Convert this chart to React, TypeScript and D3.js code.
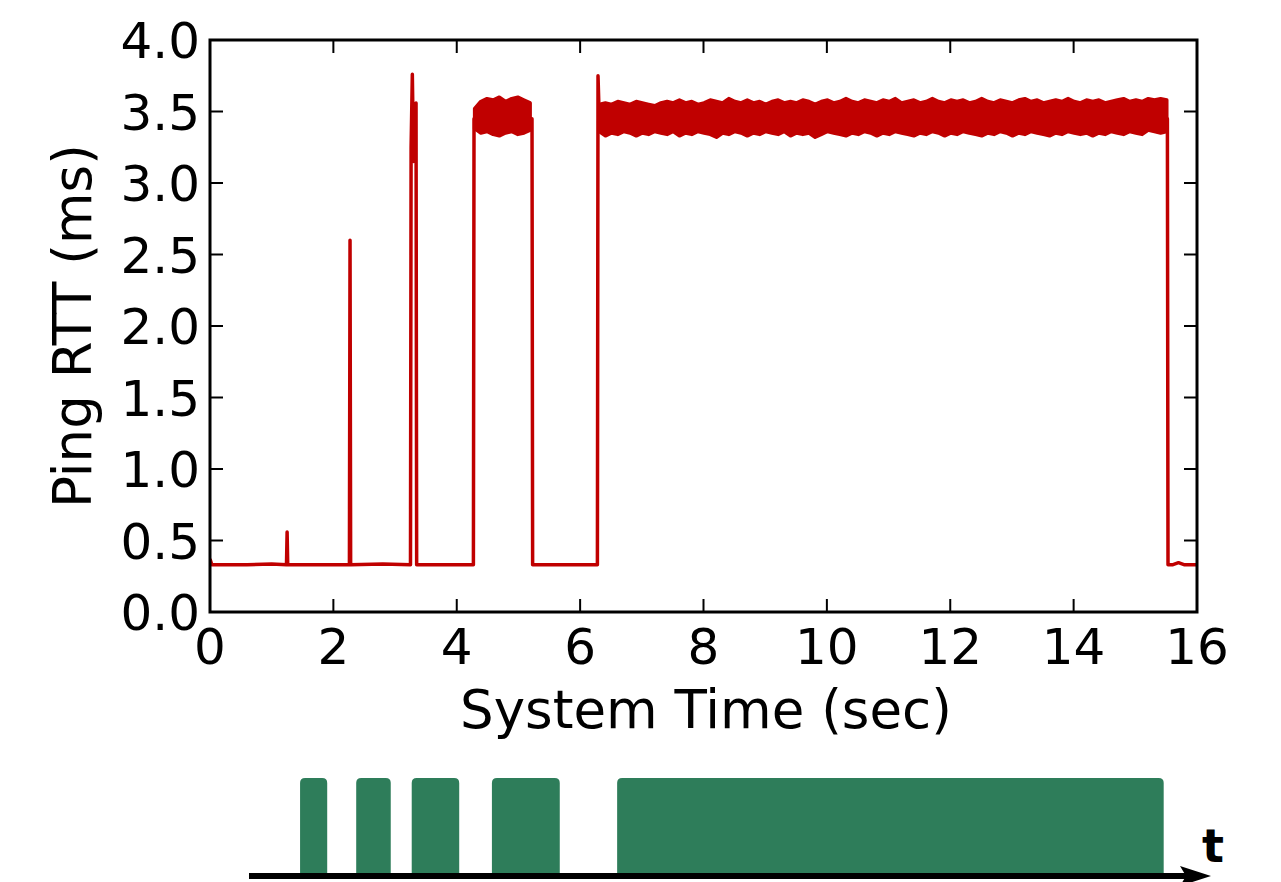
import React, { useRef, useEffect } from "react"
import * as d3 from "d3"

// ping RTT trace (sec, ms) - baseline, spikes and band entry/exit points
const rttPoints: [number, number][] = [
  [0.0, 0.37], [0.03, 0.33], [0.6, 0.33], [1.0, 0.335], [1.24, 0.33], [1.25, 0.56], [1.26, 0.33],
  [1.8, 0.33], [2.26, 0.33], [2.27, 2.6], [2.28, 0.33], [2.8, 0.335], [3.25, 0.33],
  [3.26, 3.25], [3.28, 3.76], [3.3, 3.15], [3.34, 3.56], [3.35, 0.33], [3.8, 0.33],
  [4.27, 0.33], [4.28, 3.45], [5.22, 3.45], [5.23, 0.33], [5.7, 0.33], [6.28, 0.33],
  [6.29, 3.75], [6.31, 3.45], [15.52, 3.45], [15.53, 0.33], [15.6, 0.33], [15.7, 0.345],
  [15.8, 0.33], [16.0, 0.33],
]

// noisy band envelopes, one sample every 0.1 s
const band1Start = 4.29
const band1Upper = [3.52, 3.57, 3.59, 3.58, 3.6, 3.57, 3.59, 3.6, 3.58, 3.56]
const band1Lower = [3.38, 3.35, 3.36, 3.34, 3.33, 3.35, 3.36, 3.34, 3.35, 3.37]

const band2Start = 6.31
const band2Upper = [
  3.55, 3.56, 3.55, 3.57, 3.56, 3.55, 3.57, 3.56, 3.55, 3.54,
  3.56, 3.57, 3.56, 3.58, 3.56, 3.57, 3.55, 3.56, 3.58, 3.57,
  3.56, 3.59, 3.57, 3.56, 3.58, 3.56, 3.57, 3.55, 3.57, 3.58,
  3.56, 3.57, 3.56, 3.58, 3.57, 3.55, 3.57, 3.58, 3.56, 3.57,
  3.59, 3.57, 3.56, 3.58, 3.57, 3.56, 3.58, 3.57, 3.59, 3.56,
  3.57, 3.58, 3.56, 3.57, 3.59, 3.57, 3.56, 3.58, 3.57, 3.58,
  3.56, 3.57, 3.59, 3.57, 3.56, 3.58, 3.57, 3.56, 3.58, 3.59,
  3.57, 3.58, 3.56, 3.57, 3.58, 3.57, 3.59, 3.57, 3.56, 3.58,
  3.57, 3.58, 3.56, 3.57, 3.58, 3.59, 3.57, 3.58, 3.57, 3.59,
  3.58, 3.59, 3.58,
]
const band2Lower = [
  3.36, 3.33, 3.35, 3.34, 3.36, 3.35, 3.33, 3.35, 3.34, 3.36,
  3.35, 3.34, 3.36, 3.33, 3.35, 3.34, 3.36, 3.35, 3.34, 3.32,
  3.35, 3.34, 3.36, 3.35, 3.33, 3.35, 3.34, 3.36, 3.35, 3.34,
  3.36, 3.33, 3.35, 3.34, 3.35, 3.32, 3.34, 3.36, 3.35, 3.34,
  3.33, 3.35, 3.34, 3.36, 3.35, 3.33, 3.35, 3.34, 3.36, 3.35,
  3.34, 3.33, 3.35, 3.34, 3.36, 3.35, 3.33, 3.35, 3.34, 3.36,
  3.35, 3.34, 3.33, 3.35, 3.34, 3.36, 3.35, 3.33, 3.35, 3.34,
  3.36, 3.35, 3.34, 3.33, 3.35, 3.34, 3.36, 3.35, 3.34, 3.35,
  3.33, 3.35, 3.34, 3.36, 3.35, 3.34, 3.36, 3.35, 3.34, 3.37,
  3.36, 3.35, 3.36,
]

// schematic activity bars under the chart (start, end in sec)
const activity: [number, number][] = [
  [1.46, 1.9], [2.37, 2.93], [3.27, 4.04], [4.57, 5.67], [6.6, 15.46],
]

const xTicks = [0, 2, 4, 6, 8, 10, 12, 14, 16]
const yTicks = [0, 0.5, 1, 1.5, 2, 2.5, 3, 3.5, 4]

const RED = "#c00000"
const GREEN = "#2e7d5a"
const FONT = "DejaVu Sans, sans-serif"

export default function App() {
  const svgRef = useRef<SVGSVGElement>(null)

  useEffect(() => {
    document.body.style.margin = "0"
    const svg = d3.select(svgRef.current)
    svg.selectAll("*").remove()

    const left = 210, right = 1197, top = 40, bottom = 612
    const x = d3.scaleLinear().domain([0, 16]).range([left, right])
    const y = d3.scaleLinear().domain([0, 4]).range([bottom, top])

    svg.append("defs").append("clipPath").attr("id", "plotclip")
      .append("rect").attr("x", left).attr("y", top - 10)
      .attr("width", right - left).attr("height", bottom - top + 10)

    const plot = svg.append("g").attr("clip-path", "url(#plotclip)")

    const line = d3.line<[number, number]>().x(d => x(d[0])).y(d => y(d[1]))
    plot.append("path").datum(rttPoints)
      .attr("d", line).attr("fill", "none")
      .attr("stroke", RED).attr("stroke-width", 3.5).attr("stroke-linejoin", "round")

    function drawBand(start: number, upper: number[], lower: number[]) {
      const rows = upper.map((u, i) => ({ t: start + i * 0.1, u, l: lower[i] }))
      const area = d3.area<any>().x(d => x(d.t)).y0(d => y(d.l)).y1(d => y(d.u))
      plot.append("path").datum(rows).attr("d", area)
        .attr("fill", RED).attr("stroke", RED).attr("stroke-width", 3.5)
        .attr("stroke-linejoin", "round")
    }
    drawBand(band1Start, band1Upper, band1Lower)
    drawBand(band2Start, band2Upper, band2Lower)

    // ticks on all four sides, pointing in
    const tl = 13
    const g = svg.append("g").attr("stroke", "black").attr("stroke-width", 2)
    xTicks.forEach(t => {
      g.append("line").attr("x1", x(t)).attr("x2", x(t)).attr("y1", bottom).attr("y2", bottom - tl)
      g.append("line").attr("x1", x(t)).attr("x2", x(t)).attr("y1", top).attr("y2", top + tl)
    })
    yTicks.forEach(t => {
      g.append("line").attr("x1", left).attr("x2", left + tl).attr("y1", y(t)).attr("y2", y(t))
      g.append("line").attr("x1", right).attr("x2", right - tl).attr("y1", y(t)).attr("y2", y(t))
    })

    svg.append("rect").attr("x", left).attr("y", top)
      .attr("width", right - left).attr("height", bottom - top)
      .attr("fill", "none").attr("stroke", "black").attr("stroke-width", 3)

    svg.selectAll(".xt").data(xTicks).enter().append("text")
      .attr("x", d => x(d)).attr("y", 664)
      .attr("text-anchor", "middle").attr("font-family", FONT).attr("font-size", 50)
      .text(d => d)

    svg.selectAll(".yt").data(yTicks).enter().append("text")
      .attr("x", 200).attr("y", d => y(d) + 18)
      .attr("text-anchor", "end").attr("font-family", FONT).attr("font-size", 50)
      .text(d => d.toFixed(1))

    svg.append("text").attr("x", 706).attr("y", 728)
      .attr("text-anchor", "middle").attr("font-family", FONT).attr("font-size", 53)
      .text("System Time (sec)")

    svg.append("text").attr("transform", `translate(91, ${(top + bottom) / 2}) rotate(-90)`)
      .attr("text-anchor", "middle").attr("font-family", FONT).attr("font-size", 53)
      .text("Ping RTT (ms)")

    // timeline schematic
    const barTop = 778, barBottom = 876, r = 5
    svg.selectAll(".bar").data(activity).enter().append("path")
      .attr("fill", GREEN)
      .attr("d", d => {
        const x0 = x(d[0]), x1 = x(d[1])
        return `M${x0},${barBottom} L${x0},${barTop + r} Q${x0},${barTop} ${x0 + r},${barTop} ` +
          `L${x1 - r},${barTop} Q${x1},${barTop} ${x1},${barTop + r} L${x1},${barBottom} Z`
      })

    svg.append("line").attr("x1", 249).attr("x2", 1190).attr("y1", 876).attr("y2", 876)
      .attr("stroke", "black").attr("stroke-width", 6)
    svg.append("path").attr("d", "M1180,866 L1211,876 L1180,886 L1186,876 Z").attr("fill", "black")

    svg.append("text").attr("x", 1213).attr("y", 862)
      .attr("text-anchor", "middle").attr("font-family", FONT).attr("font-weight", "bold")
      .attr("font-size", 46).text("t")
  }, [])

  return <svg ref={svgRef} width={1281} height={882} style={{ display: "block" }} />
}
